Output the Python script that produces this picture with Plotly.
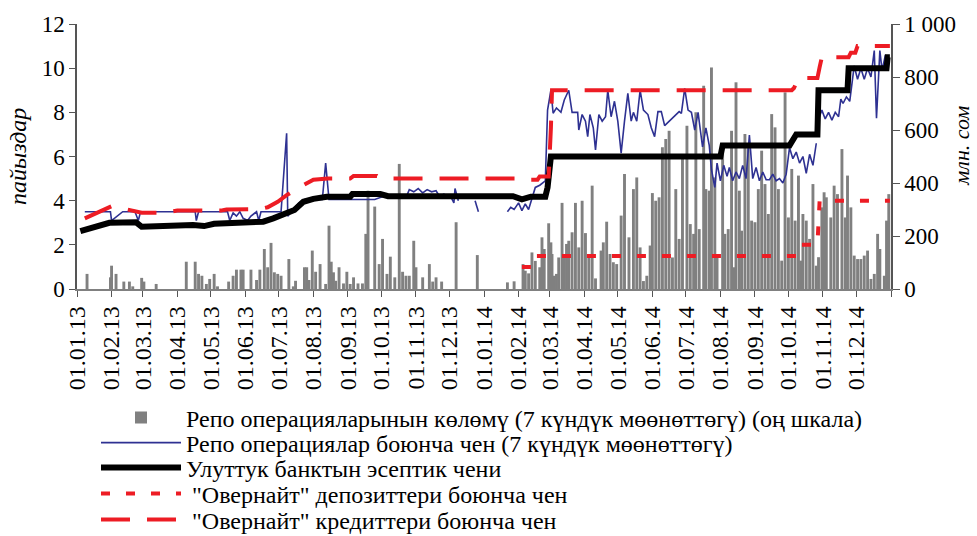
import plotly.graph_objects as go

# ---------------- data ----------------
# Repo volume (7-day), mln som (right axis)
bar_dates = [
    "2013-01-10", "2013-01-31", "2013-02-01", "2013-02-05", "2013-02-12", "2013-02-17", "2013-02-20",
    "2013-02-28", "2013-03-02", "2013-03-13", "2013-04-09", "2013-04-17", "2013-04-20", "2013-04-23",
    "2013-04-27", "2013-04-30", "2013-05-04", "2013-05-07", "2013-05-17", "2013-05-21", "2013-05-24",
    "2013-05-28", "2013-05-30", "2013-06-06", "2013-06-11", "2013-06-14", "2013-06-18", "2013-06-21",
    "2013-06-24", "2013-06-27", "2013-06-30", "2013-07-03", "2013-07-10", "2013-07-14", "2013-07-16",
    "2013-07-24", "2013-07-26", "2013-07-28", "2013-07-31", "2013-08-03", "2013-08-07", "2013-08-12",
    "2013-08-15", "2013-08-17", "2013-08-19", "2013-08-21", "2013-08-24", "2013-08-28", "2013-08-31",
    "2013-09-03", "2013-09-06", "2013-09-10", "2013-09-14", "2013-09-17", "2013-09-19", "2013-09-25",
    "2013-09-29", "2013-10-02", "2013-10-06", "2013-10-09", "2013-10-13", "2013-10-17", "2013-10-20",
    "2013-10-23", "2013-10-26", "2013-10-30", "2013-11-01", "2013-11-07", "2013-11-13", "2013-11-16",
    "2013-11-19", "2013-11-24", "2013-12-07", "2013-12-26",
    "2014-01-22", "2014-01-28", "2014-02-05", "2014-02-07", "2014-02-10", "2014-02-13", "2014-02-16",
    "2014-02-20", "2014-02-22", "2014-02-24", "2014-02-28", "2014-03-02", "2014-03-03", "2014-03-05",
    "2014-03-07", "2014-03-09", "2014-03-12", "2014-03-14", "2014-03-16", "2014-03-18", "2014-03-21",
    "2014-03-24", "2014-03-27", "2014-03-30", "2014-04-02", "2014-04-05", "2014-04-08", "2014-04-11",
    "2014-04-16", "2014-04-18", "2014-04-21", "2014-04-24", "2014-04-27", "2014-04-30", "2014-05-04",
    "2014-05-07", "2014-05-11", "2014-05-15", "2014-05-18", "2014-05-21", "2014-05-24", "2014-05-27",
    "2014-05-30", "2014-06-01", "2014-06-04", "2014-06-07", "2014-06-10", "2014-06-13", "2014-06-16",
    "2014-06-19", "2014-06-22", "2014-06-25", "2014-06-28", "2014-07-02", "2014-07-05", "2014-07-08",
    "2014-07-10", "2014-07-13", "2014-07-17", "2014-07-19", "2014-07-22", "2014-07-24", "2014-07-27",
    "2014-07-29", "2014-08-03", "2014-08-05", "2014-08-08", "2014-08-11", "2014-08-13", "2014-08-15",
    "2014-08-18", "2014-08-20", "2014-08-23", "2014-08-26", "2014-08-29", "2014-09-01", "2014-09-04",
    "2014-09-07", "2014-09-10", "2014-09-13", "2014-09-16", "2014-09-19", "2014-09-22", "2014-09-25",
    "2014-09-28", "2014-10-01", "2014-10-04", "2014-10-07", "2014-10-10", "2014-10-12", "2014-10-14",
    "2014-10-17", "2014-10-20", "2014-10-23", "2014-10-26", "2014-10-28", "2014-10-31", "2014-11-02",
    "2014-11-04", "2014-11-08", "2014-11-11", "2014-11-14", "2014-11-18", "2014-11-21", "2014-11-23",
    "2014-11-26", "2014-11-29", "2014-12-02", "2014-12-05", "2014-12-08", "2014-12-11", "2014-12-14",
    "2014-12-17", "2014-12-20", "2014-12-22", "2014-12-26", "2014-12-28", "2014-12-30",
]
repo_volume = [
    57, 44, 88, 57, 28, 28, 10,
    42, 28, 19, 103, 103, 57, 50,
    19, 38, 57, 10, 28, 50, 73,
    73, 73, 73, 34, 73, 151, 82,
    174, 63, 57, 50, 113, 10, 31,
    82, 82, 34, 145, 65, 94, 19,
    239, 103, 63, 31, 82, 21, 65,
    19, 44, 21, 21, 208, 371, 311,
    94, 189, 57, 122, 44, 472, 65,
    50, 50, 182, 82, 44, 94, 28,
    44, 28, 252, 128,
    25, 29, 94, 69, 59, 138, 106,
    82, 195, 151, 248, 176, 132, 50,
    57, 119, 325, 132, 170, 182, 214,
    325, 157, 333, 211, 119, 390, 40,
    145, 176, 254, 132, 101, 94, 277,
    434, 195, 377, 421, 157, 30, 50,
    164, 362, 333, 346, 535, 566, 597,
    119, 377, 189, 509, 616, 245, 208,
    667, 226, 767, 377, 371, 836, 421,
    132, 541, 208, 226, 597, 82, 780,
    371, 220, 585, 535, 258, 252, 377,
    522, 396, 283, 660, 610, 377, 107,
    742, 270, 453, 258, 428, 107, 283,
    258, 189, 396, 88, 120, 308, 365,
    346, 270, 390, 358, 528, 270, 428,
    308, 126, 113, 113, 126, 145, 38,
    57, 208, 151, 50, 258, 358,
]

# Repo rate (7-day), %  (None = no trades)
repo_dates = [
    "2013-01-08", "2013-01-31", "2013-02-01", "2013-02-11", "2013-02-22", "2013-02-25", "2013-02-27",
    "2013-04-17", "2013-04-18", "2013-04-20", "2013-05-16", "2013-05-18", "2013-05-21", "2013-05-24",
    "2013-05-27", "2013-05-30", "2013-06-03", "2013-06-06", "2013-06-11", "2013-06-13", "2013-06-15",
    "2013-07-03", "2013-07-08", "2013-07-09", "2013-07-14", "2013-07-19", "2013-07-24", "2013-08-09",
    "2013-08-12", "2013-08-15", "2013-09-25", "2013-10-03", "2013-10-24", "2013-10-26", "2013-10-30",
    "2013-11-03", "2013-11-07", "2013-11-11", "2013-11-15", "2013-11-19", "2013-11-22", "2013-11-26",
    "2013-12-03", "2013-12-05", "2013-12-06", "2013-12-09", "2013-12-15", "2013-12-24", "2013-12-27",
    "2014-01-10",
    "2014-01-22", "2014-01-25", "2014-01-28", "2014-02-01", "2014-02-04", "2014-02-07", "2014-02-10",
    "2014-02-12", "2014-02-16", "2014-02-20", "2014-02-25", "2014-02-27", "2014-03-02", "2014-03-04",
    "2014-03-07", "2014-03-11", "2014-03-14", "2014-03-18", "2014-03-21", "2014-03-26", "2014-03-27",
    "2014-03-30", "2014-04-02", "2014-04-04", "2014-04-06", "2014-04-09", "2014-04-11", "2014-04-14",
    "2014-04-17", "2014-04-20", "2014-04-22", "2014-04-25", "2014-04-28", "2014-05-01", "2014-05-04",
    "2014-05-07", "2014-05-10", "2014-05-13", "2014-05-15", "2014-05-18", "2014-05-21", "2014-05-24",
    "2014-05-28", "2014-05-31", "2014-06-03", "2014-06-06", "2014-06-09", "2014-06-12", "2014-06-25",
    "2014-06-27", "2014-06-30", "2014-07-03", "2014-07-06", "2014-07-09", "2014-07-12", "2014-07-14",
    "2014-07-16", "2014-07-19", "2014-07-22", "2014-07-24", "2014-07-27", "2014-07-29", "2014-08-01",
    "2014-08-04", "2014-08-07", "2014-08-09", "2014-08-12", "2014-08-15", "2014-08-18", "2014-08-21",
    "2014-08-24", "2014-08-27", "2014-08-30", "2014-09-02", "2014-09-05", "2014-09-08", "2014-09-11",
    "2014-09-14", "2014-09-17", "2014-09-20", "2014-09-23", "2014-09-26", "2014-09-29", "2014-10-02",
    "2014-10-05", "2014-10-08", "2014-10-11", "2014-10-14", "2014-10-17", "2014-10-20", "2014-10-23",
    "2014-10-26", "2014-10-27",
    "2014-10-28", "2014-10-31", "2014-11-03", "2014-11-06", "2014-11-09", "2014-11-12",
    "2014-11-15", "2014-11-17", "2014-11-19", "2014-11-22", "2014-11-25", "2014-11-29", "2014-12-02",
    "2014-12-05", "2014-12-08", "2014-12-11", "2014-12-14", "2014-12-17", "2014-12-19", "2014-12-22",
    "2014-12-24", "2014-12-27", "2014-12-30",
]
repo_rate = [
    3.5, 3.5, 3.1, 3.5, 3.5, 3.1, 3.5,
    3.5, 3.1, 3.5, 3.5, 3.1, 3.45, 3.3,
    3.5, 3.2, 3.1, 3.3, 3.5, 3.1, 3.5,
    3.5, 7.05, 3.3, 3.6, 3.9, 4.05, 4.05,
    5.7, 4.05, 4.05, 4.2, 4.25, 4.5, 4.4,
    4.55, 4.35, 4.5, 4.4, 4.45, 4.2, 4.3,
    4.1, 3.9, 4.55, 4.0, None, 4.0, 3.5,
    None,
    3.5, 3.7, 3.6, 3.9, 3.55, 3.85, 3.6,
    3.95, 4.6, 4.7, 4.9, 8.1, 9.0, 7.96,
    8.2, 8.0, 8.56, 9.0, 8.0, 8.0, 7.2,
    7.9, 7.6, 6.9, 7.9, 7.3, 6.3, 7.9,
    7.6, 7.8, 9.0, 7.8, 8.5, 7.6, 6.15,
    7.6, 8.86, 7.6, 8.0, 7.6, 9.0, 8.1,
    7.9, 7.3, 6.9, 8.03, 8.03, 7.4, 8.03,
    7.95, 9.09, 8.1, 8.0, 7.2, 8.0, 7.2,
    6.44, 7.3, 6.5, 5.4, 4.6, 5.7, 4.9,
    5.6, 5.1, 5.5, 4.9, 5.3, 5.0, 5.6,
    5.0, 6.97, 5.0, 5.5, 4.9, 5.3, 4.95,
    4.95, 5.2, 4.9, 5.0, 4.8, 5.2, 6.4,
    5.9, 6.2, 5.7, 6.0, 5.24, 6.1, 5.6,
    6.6, None,
    7.7, 8.1, 7.7, 8.0, 7.65, 8.0,
    7.8, 8.6, 8.4, 8.7, 8.5, 10.1, 9.5,
    10.0, 9.5, 10.0, 9.6, 10.8, 7.73, 10.8,
    9.9, 10.6, 10.2,
]

# National Bank policy (discount) rate, %
policy_dates = [
    "2013-01-04", "2013-01-30", "2013-02-23", "2013-02-28", "2013-04-15", "2013-04-25", "2013-05-04",
    "2013-05-28", "2013-06-03", "2013-06-17", "2013-06-26", "2013-07-08", "2013-07-15", "2013-07-23",
    "2013-08-01", "2013-08-13", "2013-09-03", "2013-09-05", "2013-09-30", "2013-10-07", "2013-12-01",
    "2014-01-27", "2014-02-04", "2014-02-12", "2014-02-25", "2014-02-27", "2014-03-02", "2014-08-01",
    "2014-08-03", "2014-10-02", "2014-10-08", "2014-10-27", "2014-10-28", "2014-11-23", "2014-11-24",
    "2014-12-28", "2014-12-29", "2014-12-31",
]
policy_rate = [
    2.62, 3.0, 3.02, 2.82, 2.9, 2.85, 2.95,
    2.97, 3.03, 3.05, 3.2, 3.43, 3.58, 3.95,
    4.08, 4.18, 4.18, 4.3, 4.3, 4.2, 4.22,
    4.2, 4.06, 4.18, 4.18, 4.6, 6.0, 6.0,
    6.5, 6.5, 7.0, 7.0, 9.0, 9.0, 10.0,
    10.0, 10.5, 10.5,
]

# Overnight deposit rate, %
odep_dates = ["2014-02-04", "2014-02-14", "2014-02-15", "2014-10-09", "2014-10-10", "2014-10-27",
              "2014-10-29", "2014-12-31"]
odep_rate = [1.0, 1.0, 1.5, 1.5, 2.0, 2.0, 4.0, 4.0]

# Overnight credit rate, %
ocred_dates = [
    "2013-01-08", "2013-02-01", "2013-02-15", "2013-02-28", "2013-03-20", "2013-04-01", "2013-05-10",
    "2013-05-15", "2013-06-14", "2013-06-21", "2013-06-30", "2013-07-08", "2013-07-23", "2013-08-01",
    "2013-08-14", "2013-09-03", "2013-09-06", "2013-09-27", "2013-10-01", "2014-02-08", "2014-02-10",
    "2014-02-18", "2014-02-20", "2014-02-28", "2014-03-02", "2014-03-03", "2014-10-04", "2014-10-06",
    "2014-10-10", "2014-10-27", "2014-10-29", "2014-10-31", "2014-11-24", "2014-11-26", "2014-11-30",
    "2014-12-02", "2014-12-31",
]
ocred_rate = [
    3.2, 3.75, 3.6, 3.45, 3.45, 3.55, 3.55,
    3.6, 3.62, 3.7, 3.95, 4.25, 4.7, 4.95,
    5.0, 5.0, 5.12, 5.12, 5.0, 5.0, 4.95,
    4.95, 5.1, 5.1, 7.3, 9.0, 9.0, 9.1,
    9.55, 9.55, 10.05, 10.5, 10.5, 10.7, 10.7,
    11.0, 11.0,
]

# x-axis ticks (month starts)
tick_dates = [f"{y}-{m:02d}-01" for y in (2013, 2014) for m in range(1, 13)] + ["2015-01-01"]
tick_labels = ["01.01.13", "01.02.13", "01.03.13", "01.04.13", "01.05.13", "01.06.13",
               "01.07.13", "01.08.13", "01.09.13", "01.10.13", "01.11.13", "01.12.13",
               "01.01.14", "01.02.14", "01.03.14", "01.04.14", "01.05.14", "01.06.14",
               "01.07.14", "01.08.14", "01.09.14", "01.10.14", "01.11.14", "01.12.14", ""]
left_ticks = [0, 2, 4, 6, 8, 10, 12]
right_ticks = [0, 200, 400, 600, 800, 1000]
right_labels = ["0", "200", "400", "600", "800", "1 000"]

names = [
    "Репо операцияларынын көлөмү (7 күндүк мөөнөттөгү) (оң шкала)",
    "Репо операциялар боюнча чен (7 күндүк мөөнөттөгү)",
    "Улуттук банктын эсептик чени",
    " \"Овернайт\" депозиттери боюнча чен",
    " \"Овернайт\" кредиттери боюнча чен",
]

SERIF = "Liberation Serif"
RED = "#ED1C24"
DAY_MS = 86400000
W, H = 977, 536

fig = go.Figure()
fig.add_trace(go.Bar(x=bar_dates, y=repo_volume, name=names[0], yaxis="y", legend="legend",
                     marker=dict(color="#808080", line=dict(width=0)),
                     width=2.6 * DAY_MS))
fig.add_trace(go.Scatter(x=repo_dates, y=repo_rate, name=names[1], yaxis="y2", mode="lines",
                         legend="legend2", connectgaps=False,
                         line=dict(color="#2E3192", width=1.6)))
fig.add_trace(go.Scatter(x=policy_dates, y=policy_rate, name=names[2], yaxis="y2", mode="lines",
                         legend="legend3", line=dict(color="#000000", width=6)))
fig.add_trace(go.Scatter(x=odep_dates, y=odep_rate, name=names[3], yaxis="y2", mode="lines",
                         legend="legend4", line=dict(color=RED, width=4, dash="9px,16px")))
fig.add_trace(go.Scatter(x=ocred_dates, y=ocred_rate, name=names[4], yaxis="y2", mode="lines",
                         legend="legend5", line=dict(color=RED, width=4, dash="29px,17px")))

legend_rows = [418, 443, 468, 494, 520]   # pixel centres of the legend rows
legend_left = 96


def legend_cfg(row_y):
    return dict(xref="container", yref="container", x=legend_left / W, xanchor="left",
                y=1 - row_y / H, yanchor="middle", orientation="v",
                font=dict(family=SERIF, size=24, color="black"), bgcolor="rgba(0,0,0,0)",
                itemwidth=80, borderwidth=0)


fig.update_layout(
    width=W, height=H,
    margin=dict(l=77, r=86, t=24, b=247, autoexpand=False),
    paper_bgcolor="white", plot_bgcolor="white",
    font=dict(family=SERIF, size=22, color="black"),
    showlegend=True,
    barmode="overlay",
    xaxis=dict(type="date", range=["2013-01-01", "2015-01-01"], tickmode="array",
               tickvals=tick_dates, ticktext=tick_labels, tickangle=-90,
               ticks="outside", ticklen=6, tickcolor="#555", showline=True,
               linecolor="#808080", linewidth=1.5, showgrid=False, zeroline=False,
               tickfont=dict(family=SERIF, size=24, color="black")),
    yaxis=dict(side="right", range=[0, 1000], tickmode="array", tickvals=right_ticks,
               ticktext=right_labels, ticks="outside", ticklen=7, tickcolor="#555",
               showline=True, linecolor="#555", linewidth=1.5, showgrid=False,
               zeroline=False, tickfont=dict(family=SERIF, size=23, color="black")),
    yaxis2=dict(side="left", overlaying="y", range=[0, 12], tickmode="array",
                tickvals=left_ticks, ticks="outside", ticklen=6, tickcolor="#555",
                showline=True, linecolor="#555", linewidth=1.5, showgrid=False,
                zeroline=False, tickfont=dict(family=SERIF, size=23, color="black")),
    legend=legend_cfg(legend_rows[0]),
    legend2=legend_cfg(legend_rows[1]),
    legend3=legend_cfg(legend_rows[2]),
    legend4=legend_cfg(legend_rows[3]),
    legend5=legend_cfg(legend_rows[4]),
    annotations=[
        dict(text="<i>пайыздар</i>", xref="paper", yref="paper", x=-0.073, y=0.5,
             textangle=-90, showarrow=False, xanchor="center", yanchor="middle",
             font=dict(family=SERIF, size=24, color="black")),
        dict(text="<i>млн. сом</i>", xref="paper", yref="paper", x=1.087, y=0.54,
             textangle=-90, showarrow=False, xanchor="center", yanchor="middle",
             font=dict(family=SERIF, size=22, color="black")),
    ],
)

fig.write_html("out.html", config={"displayModeBar": False},
               post_script="document.body.style.margin='0';")
